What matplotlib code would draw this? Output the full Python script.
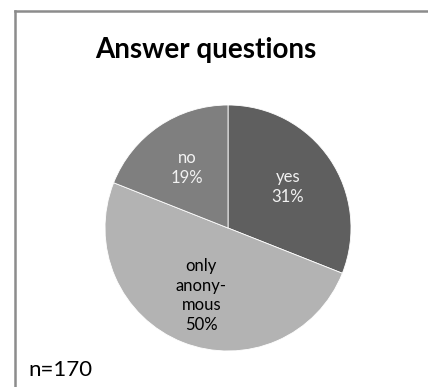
import numpy as np
import matplotlib
matplotlib.use("Agg")
import matplotlib.pyplot as plt
from matplotlib.lines import Line2D

plt.rcParams['font.family'] = ['Lato', 'DejaVu Sans']

labels = ["yes", "only\nanony-\nmous", "no"]
shares = [31, 50, 19]
colors = ["#5f5f5f", "#b3b3b3", "#7f7f7f"]
text_colors = ["#f2f2f2", "black", "#f2f2f2"]
title = "Answer questions"
note = "n=170"

W, H = 428, 387
fig = plt.figure(figsize=(W / 100, H / 100), dpi=100)

# frame lines (top and left only, the rest is cropped)
fig.add_artist(Line2D([15 / W, 1], [1 - 11 / H, 1 - 11 / H], color="#8c8c8c", lw=1.8))
fig.add_artist(Line2D([15 / W, 15 / W], [0, 1 - 11 / H], color="#8c8c8c", lw=1.8))

# pie centered at (228, 228) px from top, radius 123 px
r = 123
cx, cy = 228, H - 228
ax = fig.add_axes([(cx - r) / W, (cy - r) / H, 2 * r / W, 2 * r / H])
wedges, _ = ax.pie(shares, colors=colors, startangle=90, counterclock=False,
                   wedgeprops=dict(edgecolor="white", linewidth=0.6))
ax.set_xlim(-1, 1)
ax.set_ylim(-1, 1)
ax.set_aspect("equal")

for w, lab, s, tc in zip(wedges, labels, shares, text_colors):
    ang = np.deg2rad((w.theta1 + w.theta2) / 2)
    d = 0.59
    ax.text(d * np.cos(ang), d * np.sin(ang), f"{lab}\n{s}%", ha="center", va="center",
            fontsize=12, color=tc, linespacing=1.3)

fig.text(206 / W, 1 - 50 / H, title, ha="center", va="center", fontsize=20, fontweight="bold")
fig.text(28 / W, 1 - 370 / H, note, ha="left", va="center", fontsize=16)

fig.savefig("out.png", dpi=100)
